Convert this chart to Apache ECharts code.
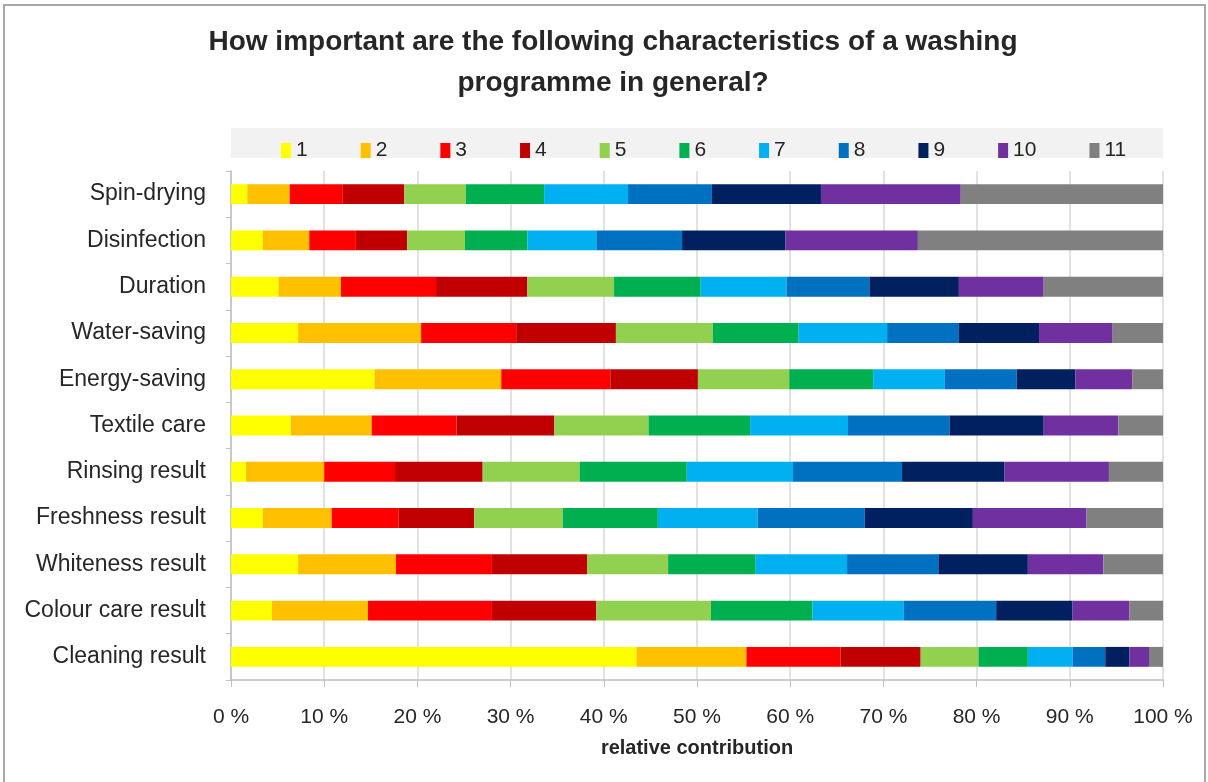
<!DOCTYPE html>
<html lang="en">
<head>
  <meta charset="UTF-8">
  <title>Washing programme characteristics</title>
  <script type="text/javascript" src="https://cdn.jsdelivr.net/npm/echarts@6/dist/echarts.min.js"></script>
  <style type="text/css">
    * {
      margin: 0;
      padding: 0;
    }

    html, body {
      width: 100%;
      height: 100%;
      background-color: #fff;
    }

    #chart {
      width: 1208px;
      height: 782px;
    }
  </style>
</head>

<body>
<div id="chart"></div>
</body>
<script type="text/javascript">
  // categories, top to bottom
  var categories = ['Spin-drying', 'Disinfection', 'Duration', 'Water-saving', 'Energy-saving', 'Textile care',
    'Rinsing result', 'Freshness result', 'Whiteness result', 'Colour care result', 'Cleaning result']

  var levels = ['1', '2', '3', '4', '5', '6', '7', '8', '9', '10', '11']

  // share (%) of each rating, one array per rating, same order as categories
  var lvl1 = [1.75, 3.4, 5.1, 7.2, 15.4, 6.4, 1.6, 3.4, 7.2, 4.4, 43.5]
  var lvl2 = [4.55, 5.0, 6.7, 13.2, 13.6, 8.7, 8.4, 7.4, 10.5, 10.3, 11.8]
  var lvl3 = [5.7, 5.0, 10.2, 10.2, 11.7, 9.1, 7.6, 7.2, 10.3, 13.3, 10.1]
  var lvl4 = [6.6, 5.5, 9.8, 10.7, 9.4, 10.5, 9.4, 8.1, 10.2, 11.2, 8.6]
  var lvl5 = [6.6, 6.2, 9.3, 10.4, 9.8, 10.1, 10.4, 9.5, 8.7, 12.3, 6.2]
  var lvl6 = [8.4, 6.7, 9.3, 9.2, 9.0, 10.9, 11.5, 10.2, 9.4, 10.9, 5.3]
  var lvl7 = [9.0, 7.4, 9.2, 9.5, 7.7, 10.5, 11.4, 10.7, 9.8, 9.8, 4.8]
  var lvl8 = [9.0, 9.2, 8.9, 7.7, 7.7, 10.9, 11.7, 11.5, 9.8, 9.9, 3.5]
  var lvl9 = [11.7, 11.1, 9.6, 8.6, 6.3, 10.1, 11.0, 11.6, 9.6, 8.2, 2.6]
  var lvl10 = [15.0, 14.2, 9.1, 7.9, 6.1, 8.0, 11.2, 12.2, 8.1, 6.1, 2.1]
  var lvl11 = [21.7, 26.3, 12.8, 5.4, 3.3, 4.8, 5.8, 8.2, 6.4, 3.6, 1.5]

  var xTicks = [0, 10, 20, 30, 40, 50, 60, 70, 80, 90, 100]

  var values = [lvl1, lvl2, lvl3, lvl4, lvl5, lvl6, lvl7, lvl8, lvl9, lvl10, lvl11]
  var colors = ['#FFFF00', '#FFC000', '#FF0000', '#C00000', '#92D050', '#00B050',
    '#00B0F0', '#0070C0', '#002060', '#7030A0', '#808080']

  var font = 'Liberation Sans'
  var textColor = '#262626'

  var series = levels.map(function (name, i) {
    return {
      name: name,
      type: 'bar',
      stack: 'total',
      barCategoryGap: '57%',
      itemStyle: {color: colors[i]},
      data: values[i]
    }
  })

  var myChart = echarts.init(document.getElementById('chart'))
  var option = {
    animation: false,
    textStyle: {fontFamily: font},
    graphic: [
      // outer chart frame
      {
        type: 'rect',
        z: -10,
        shape: {x: 4, y: 5, width: 1201, height: 800},
        style: {fill: 'none', stroke: '#a8a8a8', lineWidth: 2}
      },
      // legend band
      {
        type: 'rect',
        z: -10,
        shape: {x: 231, y: 128, width: 932, height: 30},
        style: {fill: '#f2f2f2'}
      },
      {
        type: 'text',
        x: 613,
        y: 22,
        style: {
          text: 'How important are the following characteristics of a washing\nprogramme in general?',
          align: 'center',
          font: 'bold 28px "' + font + '"',
          lineHeight: 41,
          fill: textColor
        }
      }
    ],
    legend: {
      left: 276,
      top: 135,
      itemWidth: 10,
      itemHeight: 15,
      itemGap: 53,
      icon: 'rect',
      data: levels,
      textStyle: {fontSize: 21, color: textColor, fontFamily: font}
    },
    grid: {
      left: 231,
      right: 45,
      top: 171,
      bottom: 102,
      containLabel: false
    },
    xAxis: {
      type: 'value',
      min: xTicks[0],
      max: xTicks[xTicks.length - 1],
      interval: 10,
      name: 'relative contribution',
      nameLocation: 'middle',
      nameGap: 58,
      nameTextStyle: {fontSize: 20, fontWeight: 'bold', color: textColor, fontFamily: font},
      axisLine: {show: true, lineStyle: {color: '#bfbfbf', width: 1.5}},
      axisTick: {show: true, length: 7, lineStyle: {color: '#bfbfbf'}},
      axisLabel: {formatter: '{value} %', fontSize: 21, color: textColor, margin: 27},
      splitLine: {show: true, lineStyle: {color: '#d9d9d9', width: 1.5}}
    },
    yAxis: {
      type: 'category',
      inverse: true,
      data: categories,
      axisLine: {show: true, lineStyle: {color: '#bfbfbf', width: 1.5}},
      axisTick: {show: true, length: 5, lineStyle: {color: '#bfbfbf'}},
      axisLabel: {fontSize: 23, color: textColor, margin: 25}
    },
    series: series
  };
  myChart.setOption(option);
</script>
</html>
